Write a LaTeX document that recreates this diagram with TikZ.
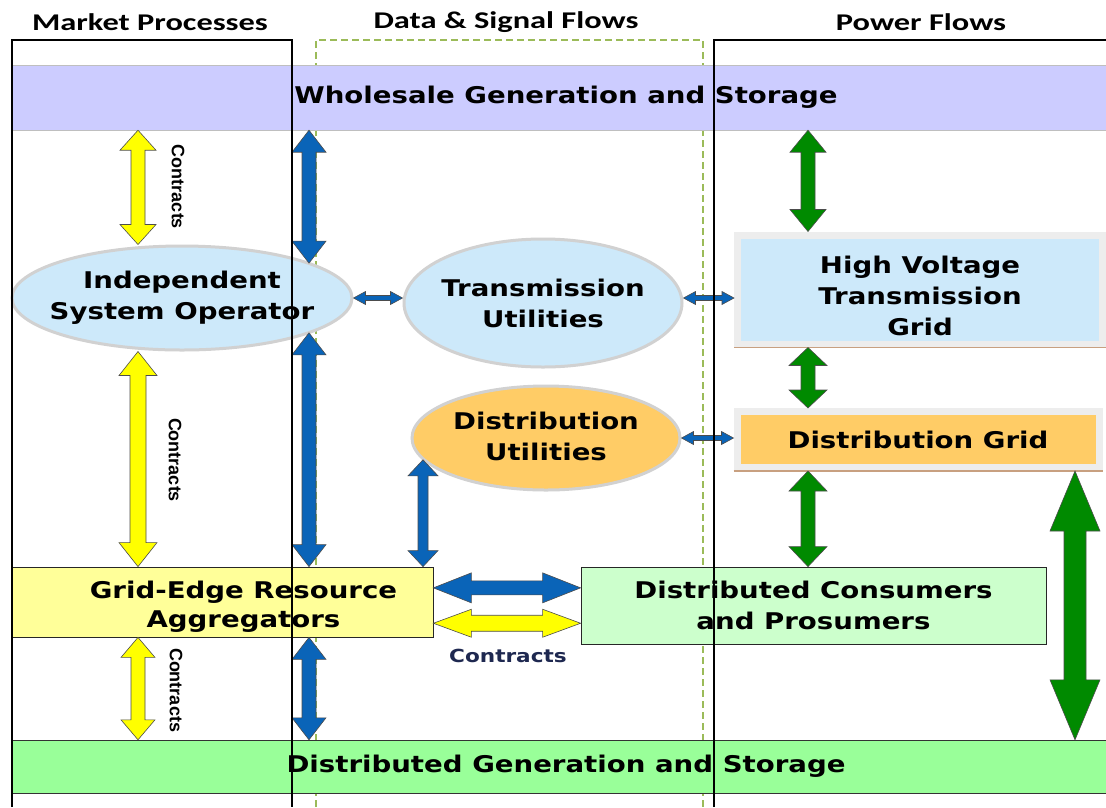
\documentclass[tikz,border=0pt]{standalone}
\usepackage{fontspec}
\setmainfont{DejaVu Sans}
\newfontfamily\boxfont{DejaVu Sans}[FakeStretch=1.2]
\newfontfamily\headfont{Carlito}[FakeStretch=1.35]
\newfontfamily\ctrfont{Liberation Sans}
\usetikzlibrary{calc,shapes.geometric}
\definecolor{wsfill}{HTML}{CCCCFF}
\definecolor{dgfill}{HTML}{99FF99}
\definecolor{lblue}{HTML}{CDE9FA}
\definecolor{orng}{HTML}{FFCC66}
\definecolor{gerafill}{HTML}{FFFF99}
\definecolor{dcpfill}{HTML}{CCFFCC}
\definecolor{yel}{HTML}{FFFF00}
\definecolor{blu}{HTML}{0A64B8}
\definecolor{grn}{HTML}{008A00}
\definecolor{tanline}{HTML}{C8A080}
\definecolor{dashgreen}{HTML}{9BBB59}
\definecolor{navy}{HTML}{1E2850}
% block arrows: colour, end, end, half shaft, half head, head length
\newcommand{\vblock}[6]{\draw[blockline,fill=#1] let \p1=#2, \p2=#3 in
  (\x1,\y1) -- (\x1+#5pt,\y1-#6pt) -- (\x1+#4pt,\y1-#6pt) -- (\x1+#4pt,\y2+#6pt) -- (\x1+#5pt,\y2+#6pt)
  -- (\x1,\y2) -- (\x1-#5pt,\y2+#6pt) -- (\x1-#4pt,\y2+#6pt) -- (\x1-#4pt,\y1-#6pt) -- (\x1-#5pt,\y1-#6pt) -- cycle;}
\newcommand{\hblock}[6]{\draw[blockline,fill=#1] let \p1=#2, \p2=#3 in
  (\x1,\y1) -- (\x1+#6pt,\y1+#5pt) -- (\x1+#6pt,\y1+#4pt) -- (\x2-#6pt,\y1+#4pt) -- (\x2-#6pt,\y1+#5pt)
  -- (\x2,\y1) -- (\x2-#6pt,\y1-#5pt) -- (\x2-#6pt,\y1-#4pt) -- (\x1+#6pt,\y1-#4pt) -- (\x1+#6pt,\y1-#5pt) -- cycle;}
\begin{document}
\begin{tikzpicture}[x=1pt,y=-1pt,
  head/.style={font=\headfont\bfseries\fontsize{24}{28}\selectfont},
  txt/.style={font=\boxfont\bfseries\fontsize{23}{31}\selectfont,align=center,inner sep=0pt},
  oval/.style={ellipse,draw=black!18,line width=3pt,inner sep=0pt},
  band/.style={rectangle,minimum width=1108pt,txt},
  grid/.style={rectangle,draw=black!7,line width=7pt,txt},
  tbox/.style={rectangle,draw=black!85,line width=0.8pt,txt},
  ctr/.style={font=\ctrfont\bfseries\fontsize{18}{18}\selectfont,inner sep=0pt},
  blockline/.style={draw=black!70,line width=0.6pt,line join=miter}]
\useasboundingbox (0,0) rectangle (1106,807);
\fill[white] (0,0) rectangle (1106,807);
\draw[dashgreen,dash pattern=on 7pt off 4pt,line width=1.3pt] (316,807) |- (703,40) -- (703,807);
\node[head] (mp) at (150,22) {Market Processes};
\node[head] (dsf) at (506,22) {Data \& Signal Flows};
\node[head] (pf) at (921,22) {Power Flows};
\node[band,fill=wsfill,draw=black!25,minimum height=65pt] (wgs) at (566,97.5) {Wholesale Generation and Storage};
\node[band,fill=dgfill,draw=black!80,minimum height=53pt] (dgs) at (566,766.5) {Distributed Generation and Storage};
\node[oval,fill=lblue,minimum width=340pt,minimum height=104pt,
  label={[txt]center:{Independent\\System Operator}}] (iso) at (182,298) {};
\node[oval,fill=lblue,minimum width=278pt,minimum height=128pt,
  label={[txt]center:{Transmission\\Utilities}}] (tu) at (543,303) {};
\node[oval,fill=orng,minimum width=268pt,minimum height=104pt,
  label={[txt,yshift=2pt]center:{Distribution\\Utilities}}] (du) at (546,438) {};
\node[grid,fill=lblue,minimum width=365pt,minimum height=109pt,
  label={[txt,yshift=-6pt]center:{High Voltage\\Transmission\\Grid}}] (hv) at (920,289.5) {};
\draw[tanline,line width=1.5pt] (hv.south west) -- (hv.south east);
\node[grid,fill=orng,minimum width=362pt,minimum height=56pt] (dg) at (918,439.5) {Distribution Grid};
\draw[tanline,line width=1.5pt] (dg.south west) -- (dg.south east);
\node[tbox,fill=gerafill,minimum width=421pt,minimum height=70pt,
  label={[txt,xshift=21pt,yshift=-5pt,font=\boxfont\bfseries\fontsize{23}{29}\selectfont]center:{Grid-Edge Resource\\Aggregators}}] (gera) at (222.5,602) {};
\node[tbox,fill=dcpfill,minimum width=465pt,minimum height=77pt] (dcp) at (813.5,605.5) {Distributed Consumers\\and Prosumers};
\node[ctr,rotate=-90] (c1) at (178,187) {Contracts};
\node[ctr,rotate=-90] (c2) at (175,460) {Contracts};
\node[ctr,rotate=-90] (c3) at (176,690) {Contracts};
\node[font=\boxfont\bfseries\fontsize{18}{18}\selectfont,text=navy,inner sep=0pt] (c4) at (508,656) {Contracts};
\coordinate (yx) at (138,0);
\coordinate (bx) at (309,0);
\coordinate (bx2) at (423,0);
\coordinate (gx) at (808,0);
\coordinate (gx2) at (1075,0);
\coordinate (ga) at ($(gera.north east)!0.3!(gera.south east)$);
\coordinate (gc) at ($(gera.north east)!0.8!(gera.south east)$);
\vblock{yel}{(wgs.south -| yx)}{(iso.north -| yx)}{7}{18}{20}
\vblock{yel}{(iso.south -| yx)}{(gera.north -| yx)}{8}{19}{24}
\vblock{yel}{(gera.south -| yx)}{(dgs.north -| yx)}{7}{17}{20}
\vblock{blu}{(wgs.south -| bx)}{(iso.15 -| bx)}{7}{17}{22}
\vblock{blu}{(iso.-15 -| bx)}{(gera.north -| bx)}{7}{17}{22}
\vblock{blu}{(gera.south -| bx)}{(dgs.north -| bx)}{7}{17}{22}
\vblock{blu}{(du.190 -| bx2)}{(gera.north -| bx2)}{5}{15}{16}
\hblock{blu}{(iso.east)}{(tu.west |- iso.east)}{2.5}{6.5}{12}
\hblock{blu}{(tu.east |- iso.east)}{(hv.west |- iso.east)}{2.5}{6.5}{12}
\hblock{blu}{(du.east)}{(dg.west |- du.east)}{2.5}{6.5}{12}
\hblock{blu}{(ga)}{(ga -| dcp.west)}{7}{15}{38}
\hblock{yel}{(gc)}{(gc -| dcp.west)}{8}{14}{38}
\vblock{grn}{(wgs.south -| gx)}{(hv.north -| gx)}{7}{18}{22}
\vblock{grn}{(hv.south -| gx)}{(dg.north -| gx)}{7}{19}{18}
\vblock{grn}{(dg.south -| gx)}{(dcp.north -| gx)}{7}{19}{20}
\vblock{grn}{(dg.south -| gx2)}{(dgs.north -| gx2)}{11}{25}{60}
% column frames
\draw[line width=1.1pt] (12,807) |- (292,40) -- (292,807);
\draw[line width=1.1pt] (714,807) |- (1110,40);
\end{tikzpicture}
\end{document}
